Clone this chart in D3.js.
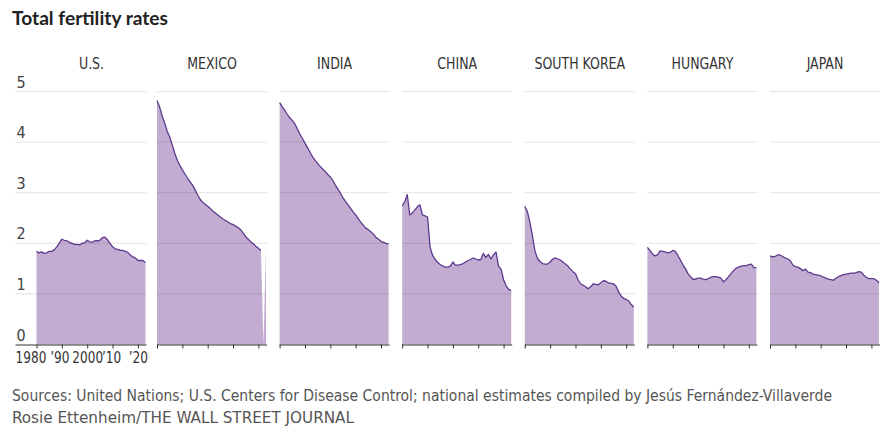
<!DOCTYPE html>
<html><head><meta charset="utf-8">
<script src="https://cdn.jsdelivr.net/npm/d3@7"></script>
<style>
body{margin:0;background:#fff;}
svg{display:block;}
</style></head>
<body>
<svg id="chart" width="893" height="433"></svg>
<script>
const years = d3.range(1980, 2024);
const countries = ["U.S.", "MEXICO", "INDIA", "CHINA", "SOUTH KOREA", "HUNGARY", "JAPAN"];
const us = [1.84,1.81,1.83,1.80,1.81,1.84,1.84,1.87,1.93,2.01,2.08,2.06,2.05,2.02,2.00,1.98,1.98,1.97,2.00,2.01,2.06,2.03,2.02,2.05,2.05,2.06,2.11,2.12,2.07,2.00,1.93,1.89,1.88,1.86,1.86,1.84,1.82,1.77,1.73,1.71,1.66,1.66,1.66,1.62];
const mexico = [4.82,4.70,4.52,4.38,4.22,4.10,3.95,3.78,3.64,3.54,3.45,3.37,3.29,3.22,3.15,3.06,2.96,2.87,2.81,2.77,2.73,2.69,2.64,2.60,2.56,2.52,2.48,2.45,2.42,2.39,2.37,2.34,2.31,2.27,2.20,2.13,2.08,2.03,1.99,1.94,1.90,1.86,null,1.91];
const india = [4.78,4.70,4.63,4.55,4.48,4.43,4.36,4.26,4.16,4.07,3.98,3.89,3.80,3.71,3.64,3.58,3.52,3.47,3.42,3.36,3.31,3.24,3.15,3.07,2.99,2.90,2.83,2.76,2.69,2.62,2.56,2.49,2.42,2.36,2.30,2.27,2.23,2.18,2.12,2.08,2.04,2.02,2.00,1.99];
const china = [2.74,2.82,2.96,2.56,2.60,2.66,2.72,2.76,2.56,2.54,2.52,1.93,1.76,1.68,1.62,1.58,1.55,1.53,1.53,1.55,1.63,1.57,1.57,1.58,1.60,1.63,1.66,1.68,1.71,1.69,1.67,1.68,1.80,1.72,1.78,1.69,1.77,1.83,1.55,1.49,1.28,1.16,1.09,1.07];
const southKorea = [2.73,2.63,2.42,2.15,1.85,1.70,1.64,1.60,1.59,1.59,1.63,1.69,1.71,1.69,1.67,1.63,1.59,1.55,1.49,1.44,1.40,1.28,1.20,1.17,1.14,1.10,1.14,1.20,1.19,1.18,1.22,1.26,1.25,1.22,1.21,1.20,1.15,1.04,0.96,0.91,0.89,0.86,0.79,0.74];
const hungary = [1.92,1.86,1.79,1.75,1.77,1.85,1.84,1.83,1.81,1.82,1.86,1.84,1.76,1.67,1.58,1.50,1.40,1.34,1.29,1.29,1.31,1.31,1.29,1.28,1.30,1.33,1.34,1.34,1.33,1.31,1.24,1.28,1.34,1.40,1.46,1.51,1.53,1.55,1.56,1.56,1.58,1.59,1.52,1.52];
const japan = [1.75,1.73,1.74,1.77,1.77,1.74,1.71,1.69,1.66,1.57,1.54,1.53,1.50,1.46,1.49,1.43,1.42,1.39,1.38,1.37,1.36,1.33,1.31,1.29,1.28,1.27,1.31,1.34,1.36,1.38,1.39,1.40,1.41,1.41,1.42,1.44,1.43,1.37,1.33,1.30,1.30,1.30,1.27,1.22];
const seriesValues = [us, mexico, india, china, southKorea, hungary, japan];
const yTicks = [0, 1, 2, 3, 4, 5];
const xTicks = [1980, 1990, 2000, 2010, 2020];
const xTickLabels = ["1980", "\u201990", "2000", "\u201910", "\u201920"];
const title = "Total fertility rates";
const source = "Sources: United Nations; U.S. Centers for Disease Control; national estimates compiled by Jes\u00fas Fern\u00e1ndez-Villaverde";
const credit = "Rosie Ettenheim/THE WALL STREET JOURNAL";

const narrow = "'Liberation Sans Narrow','DejaVu Sans Condensed','Roboto Condensed',sans-serif";
const svg = d3.select("#chart");
const y = d3.scaleLinear().domain([0, 5]).range([344.5, 91.5]);
const panelW = 110;
const lefts = countries.map((c, i) => i === 0 ? 36.5 : 157 + (i - 1) * 122.6);
const x = d3.scaleLinear().domain([1980, 2023]).range([0, 109]);
const labelShift = [-6, -2.5, 0, -1.5, 0];

const fill = "#c3acd1", stroke = "#5c3a8e";

svg.append("text").attr("x", 12).attr("y", 25).text(title)
  .attr("font-family", "Lato, 'Open Sans', sans-serif").attr("font-weight", 700)
  .attr("font-size", 18.5).attr("fill", "#222")
  .attr("textLength", 156).attr("lengthAdjust", "spacingAndGlyphs");

countries.forEach((name, i) => {
  const g = svg.append("g").attr("transform", `translate(${lefts[i]},0)`);
  const data = years.map((yr, k) => ({yr, v: seriesValues[i][k]}));
  const gridX0 = i === 0 ? -21 : 0;
  g.append("path").datum(data)
    .attr("d", d3.area().x(d => x(d.yr)).y0(y(0)).y1(d => y(d.v == null ? 0 : d.v)))
    .attr("fill", fill);
  g.selectAll("line.grid").data(yTicks.filter(t => t > 0)).join("line")
    .attr("x1", gridX0).attr("x2", panelW)
    .attr("y1", d => y(d)).attr("y2", d => y(d))
    .attr("stroke", "rgba(0,0,0,0.11)").attr("stroke-width", 1);
  g.append("path").datum(data)
    .attr("d", d3.line().defined(d => d.v != null).x(d => x(d.yr)).y(d => y(d.v)))
    .attr("fill", "none").attr("stroke", stroke).attr("stroke-width", 1.3)
    .attr("stroke-linejoin", "round");
  const ax = g.append("g").attr("transform", `translate(0,${y(0)})`)
    .call(d3.axisBottom(x).tickValues(xTicks).tickSize(4)
      .tickFormat((d, k) => i === 0 ? xTickLabels[k] : ""));
  ax.select(".domain").attr("d", `M${gridX0},0.5H${panelW}`).attr("stroke", "#333");
  ax.selectAll(".tick line").attr("stroke", "#333");
  ax.selectAll(".tick text").attr("font-family", narrow).attr("font-size", 16)
    .attr("fill", "#333").attr("y", 0).attr("dy", 0)
    .attr("transform", (d, k) => `translate(${labelShift[k]},18) scale(0.84,1)`);
  g.append("text").attr("text-anchor", "middle")
    .attr("transform", `translate(${panelW / 2},69) scale(0.9,1)`)
    .attr("font-family", narrow).attr("font-size", 15.5).attr("fill", "#333").text(name);
  if (i === 0) {
    g.selectAll("text.ylab").data(yTicks).join("text")
      .attr("x", gridX0 + 1).attr("y", d => y(d) - 4)
      .attr("font-family", narrow).attr("font-size", 16).attr("fill", "#444")
      .text(d => d);
  }
});

svg.append("text").attr("x", 12).attr("y", 401).text(source)
  .attr("font-family", narrow).attr("font-size", 16).attr("fill", "#555")
  .attr("textLength", 820).attr("lengthAdjust", "spacingAndGlyphs");
svg.append("text").attr("x", 12).attr("y", 423).text(credit)
  .attr("font-family", narrow).attr("font-size", 16).attr("fill", "#555")
  .attr("textLength", 342).attr("lengthAdjust", "spacingAndGlyphs");
</script>
</body></html>
